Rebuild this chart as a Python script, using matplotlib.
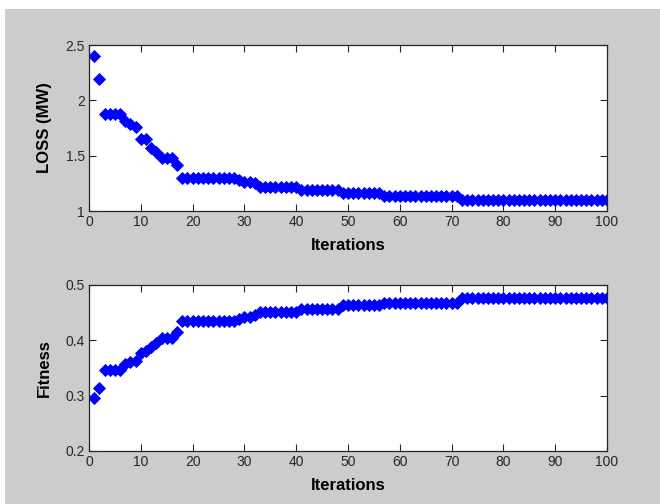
import numpy as np
import matplotlib
matplotlib.use('Agg')
import matplotlib.pyplot as plt
from matplotlib.patches import Rectangle
from matplotlib.ticker import FormatStrFormatter

plt.rcParams['font.family'] = ['Liberation Sans', 'DejaVu Sans']

iterations = np.arange(1, 101)

# loss per iteration (MW)
loss = [2.40, 2.19, 1.88, 1.88, 1.88, 1.88, 1.81, 1.79, 1.76, 1.65,
        1.65, 1.57, 1.53, 1.475, 1.475, 1.475, 1.415, 1.30, 1.30, 1.30,
        1.30, 1.30, 1.30, 1.30, 1.30, 1.30, 1.30, 1.30, 1.28, 1.26,
        1.26, 1.25, 1.215, 1.215, 1.215, 1.215, 1.215, 1.215, 1.215, 1.215,
        1.19, 1.19, 1.19, 1.19, 1.19, 1.19, 1.19, 1.19, 1.165, 1.165,
        1.165, 1.165, 1.165, 1.165, 1.165, 1.165, 1.14, 1.14, 1.14, 1.14,
        1.14, 1.14, 1.14, 1.14, 1.14, 1.14, 1.14, 1.14, 1.14, 1.14,
        1.14, 1.10, 1.10, 1.10, 1.10, 1.10, 1.10, 1.10, 1.10, 1.10,
        1.10, 1.10, 1.10, 1.10, 1.10, 1.10, 1.10, 1.10, 1.10, 1.10,
        1.10, 1.10, 1.10, 1.10, 1.10, 1.10, 1.10, 1.10, 1.10, 1.10]

# fitness per iteration
fitness = [0.295, 0.314, 0.347, 0.347, 0.347, 0.347, 0.357, 0.360, 0.363, 0.378,
           0.380, 0.388, 0.395, 0.404, 0.404, 0.404, 0.415, 0.435, 0.435, 0.435,
           0.435, 0.435, 0.435, 0.435, 0.435, 0.435, 0.435, 0.435, 0.439, 0.443,
           0.443, 0.445, 0.451, 0.451, 0.451, 0.451, 0.451, 0.451, 0.451, 0.451,
           0.457, 0.457, 0.457, 0.457, 0.457, 0.457, 0.457, 0.457, 0.463, 0.463,
           0.463, 0.463, 0.463, 0.463, 0.463, 0.463, 0.468, 0.468, 0.468, 0.468,
           0.468, 0.468, 0.468, 0.468, 0.468, 0.468, 0.468, 0.468, 0.468, 0.468,
           0.468, 0.476, 0.476, 0.476, 0.476, 0.476, 0.476, 0.476, 0.476, 0.476,
           0.476, 0.476, 0.476, 0.476, 0.476, 0.476, 0.476, 0.476, 0.476, 0.476,
           0.476, 0.476, 0.476, 0.476, 0.476, 0.476, 0.476, 0.476, 0.476, 0.476]

xticks = list(range(0, 101, 10))
loss_ticks = [1, 1.5, 2, 2.5]
fit_ticks = [0.2, 0.3, 0.4, 0.5]

fig = plt.figure(figsize=(6.6, 5.04), dpi=100, facecolor='white')
# grey matlab-style window background (white strip left/top)
fig.patches.append(Rectangle((5/660, 0), 1, 1 - 9/504, transform=fig.transFigure,
                             facecolor='#cccccc', edgecolor='none', zorder=-1))

ax1 = fig.add_axes([89/660, 1 - 211/504, 518/660, 166/504])
ax2 = fig.add_axes([89/660, 1 - 451/504, 518/660, 166/504])

panels = [(ax1, loss, loss_ticks, 'LOSS (MW)', '%g'),
          (ax2, fitness, fit_ticks, 'Fitness', '%.1f')]

for ax, vals, yt, lab, fmt in panels:
    ax.plot(iterations, vals, linestyle='none', marker='D', markersize=6,
            color='#0000ff', markeredgewidth=0.6)
    ax.set_xlim(0, 100)
    ax.set_ylim(yt[0], yt[-1])
    ax.set_xticks(xticks)
    ax.set_yticks(yt)
    ax.yaxis.set_major_formatter(FormatStrFormatter(fmt))
    ax.tick_params(direction='in', top=True, right=True, length=5, width=0.8,
                   labelsize=10, colors='#262626', pad=3)
    for s in ax.spines.values():
        s.set_color('#262626')
        s.set_linewidth(0.9)
    ax.set_xlabel('Iterations', fontsize=12, fontweight='bold', labelpad=6)
    ax.set_ylabel(lab, fontsize=12, fontweight='bold', labelpad=10)

fig.savefig('out.png', dpi=100, facecolor=fig.get_facecolor())
